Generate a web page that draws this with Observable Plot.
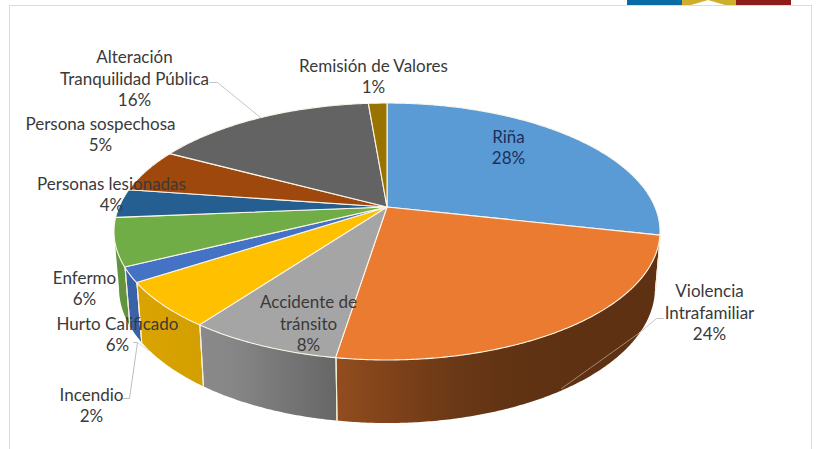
<!DOCTYPE html>
<html>
<head>
<meta charset="utf-8">
<script src="https://cdn.jsdelivr.net/npm/d3@7"></script>
<script src="https://cdn.jsdelivr.net/npm/@observablehq/plot@0.6"></script>
<style>
  html, body { margin: 0; padding: 0; background: #fff; overflow: hidden; }
  #page { position: relative; width: 816px; height: 449px; overflow: hidden; }
  #frame { position: absolute; left: 9px; top: 5px; width: 801px; height: 460px; border: 1px solid #dcdcdc; }
  .logo { position: absolute; top: 0; height: 5px; }
  #chart { position: absolute; left: 0; top: 0; }
  #chart svg { display: block; background: transparent; }
</style>
</head>
<body>
<div id="page">
  <div class="logo" style="left:627px;width:55px;background:#0a6aa5"></div>
  <div class="logo" style="left:682px;width:54px;background:#cfae2c"></div>
  <div class="logo" style="left:691px;width:34px;background:#fff;clip-path:polygon(50% 0,100% 100%,0 100%)"></div>
  <div class="logo" style="left:736px;width:55px;background:#8e1d18"></div>
  <div id="frame"></div>
  <div id="chart"></div>
</div>
<script>
// ---- data ----
const categories = ["Riña", "Violencia Intrafamiliar", "Accidente de tránsito", "Hurto Calificado", "Incendio", "Enfermo", "Personas lesionadas", "Persona sospechosa", "Alteración Tranquilidad Pública", "Remisión de Valores"];
const values = [28.49, 24.0, 7.6, 5.7, 1.9, 6.0, 3.6, 5.49, 15.9, 1.32];
const sliceColors = ["#5b9bd5", "#ea7b30", "#a5a5a5", "#ffc000", "#4472c4", "#70ad47", "#255e91", "#9e480e", "#636363", "#997300"];
const labelLines = ["Riña", "Violencia\nIntrafamiliar", "Accidente de\ntránsito", "Hurto Calificado", "Incendio", "Enfermo", "Personas lesionadas", "Persona sospechosa", "Alteración\nTranquilidad Pública", "Remisión de Valores"];

// ---- layout of the perspective pie (chart units = px) ----
const cx = 387;
const topDisc = {y0: 207, A: 268, B: 123.8, k: 0.1907};
const botDisc = {y0: 262.4, A: 263.1, B: 130.1, k: 0.19};
const wallFrom = 101, wallTo = 259; // visible arc of the side wall, degrees clockwise from 12 o'clock
const labelX = [508, 709, 308, 117, 91, 84, 111, 100, 134, 373];
const labelY = [147.5, 313, 324, 334.5, 405.5, 288.5, 194.5, 134.5, 79, 76.5];
const labelInk = ["#1c2f5c", "#3a3a3a", "#3a3a3a", "#3a3a3a", "#3a3a3a", "#3a3a3a", "#3a3a3a", "#3a3a3a", "#3a3a3a", "#3a3a3a"];
const leaders = [
  {id: "a", pts: [[209, 82], [217, 82], [260, 117]], color: "#c4c4c4"},
  {id: "v", pts: [[663, 318], [656, 318], [638, 333]], color: "#c4c4c4"},
  {id: "w", pts: [[638, 333], [561, 388]], color: "#a58a6c"},
  {id: "i", pts: [[122, 398], [129, 398], [137, 342], [133, 342]], color: "#bdbdbd"},
  {id: "j", pts: [[137, 342], [148, 350]], color: "#d8d8d8"}
];

// ---- projection of a pie angle to the picture ----
const rad = d => d * Math.PI / 180;
function project(disc, deg) {
  const u = Math.sin(rad(deg)), v = Math.cos(rad(deg));
  const den = 1 + disc.k * v;
  return [cx + disc.A * u / den, disc.y0 - disc.B * v / den];
}
const shade = d3.scaleLinear().domain([-1, -0.6, -0.15, 0.08, 0.3, 0.6, 1]).range([0.86, 0.82, 0.6, 0.52, 0.44, 0.4, 0.4]);

const total = d3.sum(values);
let acc = 0;
const slices = values.map((v, i) => {
  const start = acc / total * 360; acc += v;
  return {i, name: categories[i], start, end: acc / total * 360, color: sliceColors[i]};
});

// top faces: area between the apex and the rim arc
const faceRows = slices.flatMap(s => {
  const n = Math.max(2, Math.ceil(s.end - s.start) * 2);
  return d3.range(n + 1).map(j => {
    const [x, y] = project(topDisc, s.start + (s.end - s.start) * j / n);
    return {key: s.i, x1: cx, y1: topDisc.y0, x2: x, y2: y, color: s.color};
  });
});

// side wall: one band per slice, filled with a gradient that shades it by horizontal position
const walls = [];
const wallEdges = [];
slices.forEach(s => {
  const a = Math.max(s.start, wallFrom), b = Math.min(s.end, wallTo);
  if (a >= b) return;
  const n = Math.ceil(b - a) * 2;
  const rows = d3.range(n + 1).map(j => {
    const d = a + (b - a) * j / n;
    const t = project(topDisc, d), bt = project(botDisc, d);
    return {x1: t[0], y1: t[1], x2: bt[0], y2: bt[1]};
  });
  const extent = d3.extent(rows.flatMap(r => [r.x1, r.x2]));
  walls.push({id: "wall" + s.i, color: s.color, rows, extent});
  [s.start, s.end].forEach(d => {
    if (d > wallFrom && d < wallTo) {
      const t = project(topDisc, d), bt = project(botDisc, d);
      wallEdges.push({e: s.i + "t" + d, x: t[0], y: t[1]}, {e: s.i + "t" + d, x: bt[0], y: bt[1]});
    }
  });
});

function gradientDefs(index, scales) {
  const defs = d3.create("svg:defs");
  walls.forEach(w => {
    const g = defs.append("linearGradient").attr("id", w.id)
      .attr("gradientUnits", "userSpaceOnUse")
      .attr("x1", scales.x(w.extent[0])).attr("x2", scales.x(w.extent[1]))
      .attr("y1", 0).attr("y2", 0);
    const c = d3.rgb(w.color);
    d3.range(9).forEach(j => {
      const x = w.extent[0] + (w.extent[1] - w.extent[0]) * j / 8;
      const f = shade((x - cx) / botDisc.A);
      g.append("stop").attr("offset", j / 8).attr("stop-color", d3.rgb(c.r * f, c.g * f, c.b * f).formatHex());
    });
  });
  return defs.node();
}

const labels = slices.map((s, i) => ({
  x: labelX[i], y: labelY[i] - 1.5, ink: labelInk[i],
  text: labelLines[i] + "\n" + Math.round(values[i]) + "%"
}));
const leaderRows = leaders.flatMap(l => l.pts.map(p => ({id: l.id, x: p[0], y: p[1], color: l.color})));

const chart = Plot.plot({
  width: 816,
  height: 449,
  margin: 0,
  x: {domain: [0, 816], range: [0, 816], axis: null},
  y: {domain: [0, 449], range: [0, 449], axis: null},
  color: {type: "identity"},
  style: {background: "transparent"},
  marks: [
    gradientDefs,
    ...walls.map(w => Plot.area(w.rows, {x1: "x1", y1: "y1", x2: "x2", y2: "y2", fill: `url(#${w.id})`})),
    Plot.line(wallEdges, {x: "x", y: "y", z: "e", stroke: "#f6eeda", strokeWidth: 1.1}),
    Plot.area(faceRows, {x1: "x1", y1: "y1", x2: "x2", y2: "y2", z: "key", fill: "color", stroke: "#fbf5e8", strokeWidth: 1.1}),
    Plot.line(leaderRows, {x: "x", y: "y", z: "id", stroke: "color", strokeWidth: 1}),
    Plot.text(labels, {
      x: "x", y: "y", text: "text", fill: "ink",
      fontFamily: "Lato, 'Noto Sans', sans-serif", fontSize: 17, lineHeight: 1.27,
      textAnchor: "middle", lineAnchor: "middle"
    })
  ]
});
document.getElementById("chart").appendChild(chart);
</script>
</body>
</html>
